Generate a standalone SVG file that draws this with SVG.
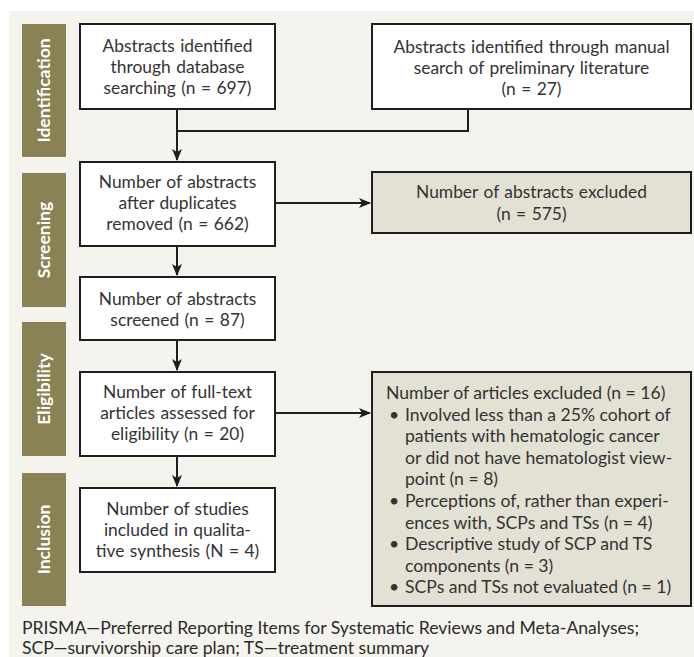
<svg xmlns="http://www.w3.org/2000/svg" width="694" height="657" viewBox="0 0 694 657">
<defs>
<marker id="arr" viewBox="0 0 12 10" refX="11" refY="5" markerWidth="12" markerHeight="10" markerUnits="userSpaceOnUse" orient="auto">
<path d="M0,0 L12,5 L0,10 L3,5 Z" fill="#1e1e1e"/>
</marker>
</defs>
<style>
.bg{fill:#f4f3ee}
.bar{fill:#8a8155}
.bar-t{font-family:"Lato","Liberation Sans",sans-serif;font-weight:bold;font-size:17.5px;fill:#ffffff;text-anchor:middle}
.box{fill:#ffffff;stroke:#1e1e1e;stroke-width:2}
.exc{fill:#e3e0d4;stroke:#1e1e1e;stroke-width:2}
.t{font-family:"Lato","Liberation Sans",sans-serif;font-size:17.4px;fill:#333333;text-anchor:middle;word-spacing:1px}
.tl{font-family:"Lato","Liberation Sans",sans-serif;font-size:17.6px;fill:#333333}
.fn{font-family:"Lato","Liberation Sans",sans-serif;font-size:17.6px;fill:#2a2a2a}
.c{fill:none;stroke:#1e1e1e;stroke-width:2}
</style>
<rect class="bg" x="9" y="11" width="685" height="646"/>

<g id="phase-identification"><rect class="bar" x="22" y="24" width="44" height="133"/><text class="bar-t" transform="translate(50,90.5) rotate(-90)">Identification</text></g>
<g id="phase-screening"><rect class="bar" x="22" y="173" width="44" height="134"/><text class="bar-t" transform="translate(50,240) rotate(-90)">Screening</text></g>
<g id="phase-eligibility"><rect class="bar" x="22" y="322" width="44" height="134"/><text class="bar-t" transform="translate(50,389) rotate(-90)">Eligibility</text></g>
<g id="phase-inclusion"><rect class="bar" x="22" y="473" width="44" height="133"/><text class="bar-t" transform="translate(50,539.5) rotate(-90)">Inclusion</text></g>

<g id="connectors">
<path class="c" d="M177,109 V160" marker-end="url(#arr)"/>
<path class="c" d="M468,109 V131 H177"/>
<path class="c" d="M275,203 H370" marker-end="url(#arr)"/>
<path class="c" d="M177,246 V275" marker-end="url(#arr)"/>
<path class="c" d="M177,340 V370" marker-end="url(#arr)"/>
<path class="c" d="M275,413 H370" marker-end="url(#arr)"/>
<path class="c" d="M177,456 V486" marker-end="url(#arr)"/>
</g>

<g id="n-database"><rect class="box" x="80" y="24" width="195" height="85"/>
<text class="t" x="177.5" y="52">Abstracts identified</text>
<text class="t" x="177.5" y="73">through database</text>
<text class="t" x="177.5" y="94">searching (n = 697)</text></g>

<g id="n-manual"><rect class="box" x="372" y="24" width="319" height="85"/>
<text class="t" x="531.5" y="53">Abstracts identified through manual</text>
<text class="t" x="531.5" y="74">search of preliminary literature</text>
<text class="t" x="531.5" y="95">(n = 27)</text></g>

<g id="n-dedup"><rect class="box" x="80" y="162" width="195" height="84"/>
<text class="t" x="177.5" y="188">Number of abstracts</text>
<text class="t" x="177.5" y="209">after duplicates</text>
<text class="t" x="177.5" y="230">removed (n = 662)</text></g>

<g id="n-excl1"><rect class="exc" x="372" y="172" width="319" height="61"/>
<text class="t" x="531.5" y="198">Number of abstracts excluded</text>
<text class="t" x="531.5" y="220">(n = 575)</text></g>

<g id="n-screened"><rect class="box" x="80" y="277" width="195" height="63"/>
<text class="t" x="177.5" y="305">Number of abstracts</text>
<text class="t" x="177.5" y="326">screened (n = 87)</text></g>

<g id="n-fulltext"><rect class="box" x="80" y="372" width="195" height="84"/>
<text class="t" x="177.5" y="398">Number of full-text</text>
<text class="t" x="177.5" y="419">articles assessed for</text>
<text class="t" x="177.5" y="440">eligibility (n = 20)</text></g>

<g id="n-excl2"><rect class="exc" x="372" y="372" width="319" height="234"/>
<text class="tl" x="386" y="399">Number of articles excluded (n = 16)</text>
<text class="tl" x="389" y="420.6">•</text><text class="tl" x="405" y="420.6">Involved less than a 25% cohort of</text>
<text class="tl" x="405" y="442.2">patients with hematologic cancer</text>
<text class="tl" x="405" y="463.8">or did not have hematologist view-</text>
<text class="tl" x="405" y="485.4">point (n = 8)</text>
<text class="tl" x="389" y="507">•</text><text class="tl" x="405" y="507">Perceptions of, rather than experi-</text>
<text class="tl" x="405" y="528.6">ences with, SCPs and TSs (n = 4)</text>
<text class="tl" x="389" y="550.2">•</text><text class="tl" x="405" y="550.2">Descriptive study of SCP and TS</text>
<text class="tl" x="405" y="571.8">components (n = 3)</text>
<text class="tl" x="389" y="593.4">•</text><text class="tl" x="405" y="593.4">SCPs and TSs not evaluated (n = 1)</text></g>

<g id="n-included"><rect class="box" x="80" y="488" width="195" height="84"/>
<text class="t" x="177.5" y="515">Number of studies</text>
<text class="t" x="177.5" y="536">included in qualita-</text>
<text class="t" x="177.5" y="557">tive synthesis (N = 4)</text></g>

<g id="footnote">
<text class="fn" x="22" y="634">PRISMA—Preferred Reporting Items for Systematic Reviews and Meta-Analyses;</text>
<text class="fn" x="22" y="654">SCP—survivorship care plan; TS—treatment summary</text>
</g>
</svg>
